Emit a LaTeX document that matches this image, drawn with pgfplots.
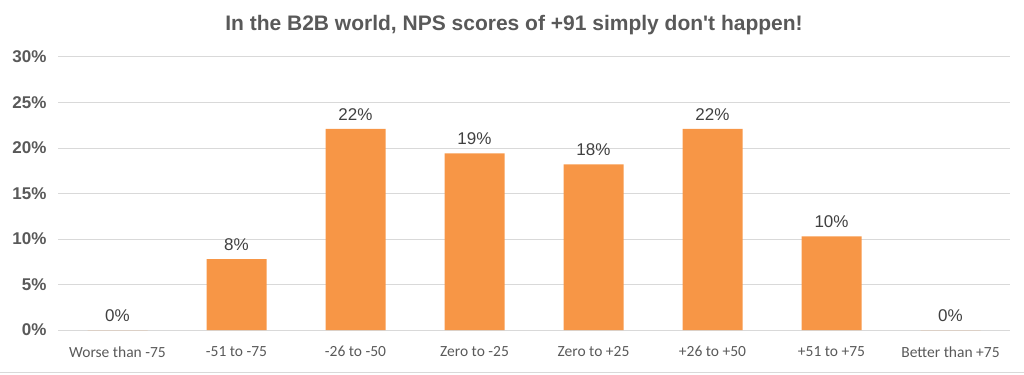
\documentclass[border=0pt]{standalone}
\usepackage{pgfplots}
\pgfplotsset{compat=1.18}
\usepackage{fontspec}
\setmainfont{Liberation Sans}[Ligatures=TeXOff]
\newfontfamily\carlito{Carlito}
\definecolor{barorange}{HTML}{F79646}
\definecolor{lbl}{HTML}{404040}
\definecolor{tickgray}{HTML}{595959}
\definecolor{gridgray}{HTML}{D9D9D9}
\begin{document}
\begin{tikzpicture}[x=1bp,y=1bp]
\path[use as bounding box] (0,0) rectangle (1024,374);
\draw[gridgray, line width=1bp] (0,2) -- (1024,2);
\node[anchor=base, font=\fontsize{21bp}{25bp}\selectfont\bfseries, text=tickgray] at (514,344) {In the B2B world, NPS scores of +91 simply don\textquotesingle t happen!};
\begin{axis}[
  at={(58bp,44bp)}, anchor=south west,
  scale only axis,
  width=952bp, height=273bp,
  ymin=0, ymax=30,
  xmin=-0.5, xmax=7.5,
  ytick={0,5,10,15,20,25,30},
  yticklabel={\pgfmathprintnumber{\tick}\%},
  yticklabel style={font=\fontsize{17bp}{20bp}\selectfont\bfseries, text=tickgray},
  /pgf/number format/assume math mode=true,
  xtick=data,
  xticklabels={Worse than -75,-51 to -75,-26 to -50,Zero to -25,Zero to +25,+26 to +50,+51 to +75,Better than +75},
  xticklabel style={font=\carlito\fontsize{15.5bp}{18bp}\selectfont, text=tickgray},
  major tick length=0pt,
  xmajorgrids=false,
  ymajorgrids=true,
  major grid style={draw=gridgray, line width=1bp},
  axis line style={draw=none},
  xticklabel shift=13bp,
  yticklabel shift=8bp,
  ybar, bar width=60bp,
  nodes near coords={\pgfmathprintnumber[fixed,precision=0]{\pgfplotspointmeta}\%},
  nodes near coords style={font=\fontsize{17bp}{20bp}\selectfont, text=lbl, yshift=5bp},
  clip=false,
]
\addplot[fill=barorange, draw=none] coordinates {
  (0,0) (1,7.8) (2,22.1) (3,19.4) (4,18.2) (5,22.1) (6,10.3) (7,0)
};
\end{axis}
\end{tikzpicture}
\end{document}
